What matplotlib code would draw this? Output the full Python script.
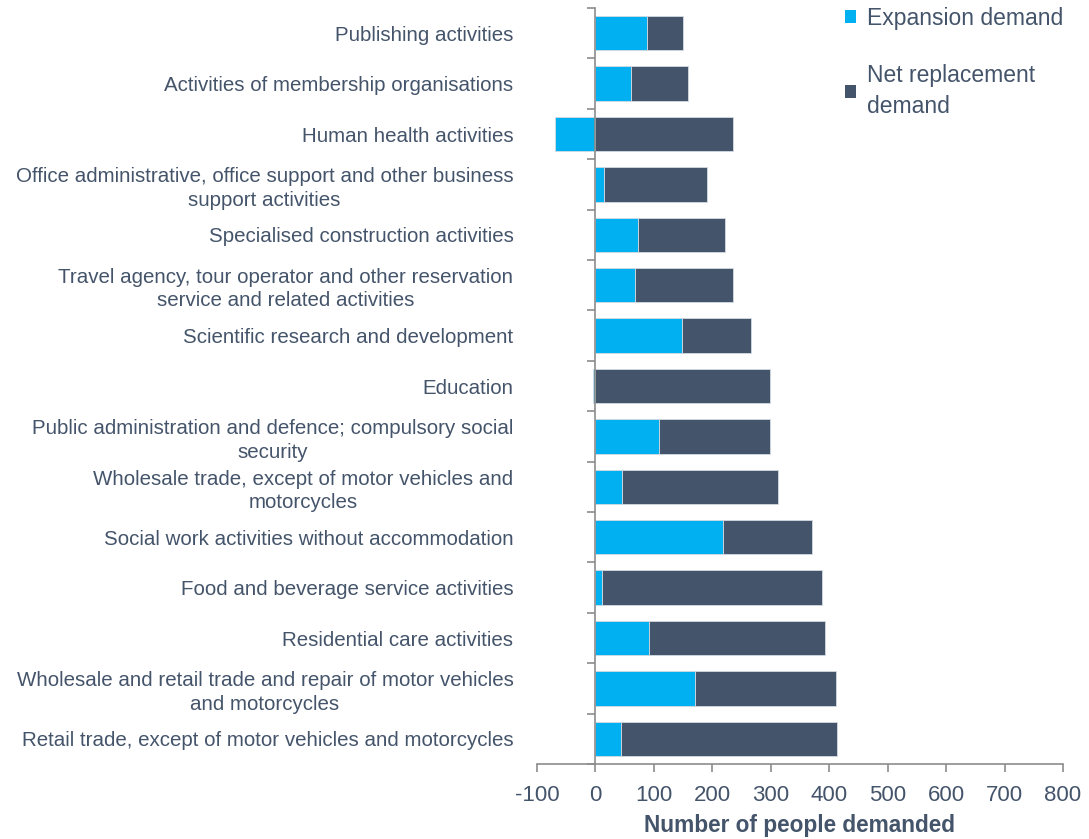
import matplotlib
matplotlib.use("Agg")
import matplotlib.pyplot as plt
import numpy as np

categories = [
    "Publishing activities",
    "Activities of membership organisations",
    "Human health activities",
    "Office administrative, office support and other business\nsupport activities",
    "Specialised construction activities",
    "Travel agency, tour operator and other reservation\nservice and related activities",
    "Scientific research and development",
    "Education",
    "Public administration and defence; compulsory social\nsecurity",
    "Wholesale trade, except of motor vehicles and\nmotorcycles",
    "Social work activities without accommodation",
    "Food and beverage service activities",
    "Residential care activities",
    "Wholesale and retail trade and repair of motor vehicles\nand motorcycles",
    "Retail trade, except of motor vehicles and motorcycles",
]
expansion = [88, 61, -69, 14, 73, 67, 148, -4, 109, 46, 218, 11, 91, 171, 43]
net_replacement = [62, 98, 236, 177, 148, 169, 118, 298, 189, 267, 152, 377, 302, 240, 371]
series_labels = ["Expansion demand", "Net replacement\ndemand"]
xticks = [-100, 0, 100, 200, 300, 400, 500, 600, 700, 800]
xlabel = "Number of people demanded"

plt.rcParams['font.family'] = ['Liberation Sans', 'DejaVu Sans']
txt = '#44546A'
blue = '#00B0F0'
dark = '#44546A'
grey = '#8c8c8c'

fig = plt.figure(figsize=(10.89, 8.39), dpi=100)
ax = fig.add_axes([537/1089, 1-764/839, (1063-537)/1089, (764-8)/839])

n = len(categories)
y = np.arange(n)
exp = np.array(expansion, dtype=float)
net = np.array(net_replacement, dtype=float)
h = 0.68
ax.barh(y, exp, height=h, color=blue, edgecolor='#d5dbe2', linewidth=0.6, label=series_labels[0], zorder=2)
ax.barh(y, net, left=np.maximum(exp, 0), height=h, color=dark, edgecolor='#d5dbe2', linewidth=0.6,
        label=series_labels[1], zorder=2)

ax.set_xlim(-100, 800)
ax.set_ylim(n - 0.5, -0.5)
ax.set_xticks(xticks)
ax.set_xticklabels([str(v) for v in xticks])
ax.tick_params(axis='x', colors=grey, length=6, width=1.2, labelsize=16, labelcolor=txt, pad=9)
for s in ['top', 'right']:
    ax.spines[s].set_visible(False)
ax.spines['bottom'].set_color(grey)
ax.spines['bottom'].set_linewidth(1.2)
ax.spines['left'].set_position(('data', 0))
ax.spines['left'].set_color(grey)
ax.spines['left'].set_linewidth(1.2)
ax.set_yticks(np.arange(-0.5, n, 1.0))
ax.set_yticklabels([])
ax.tick_params(axis='y', colors=grey, length=6, width=1.2)

sec = ax.secondary_yaxis('left', functions=(lambda v: v, lambda v: v))
sec.set_yticks(y)
sec.set_yticklabels(categories)
sec.tick_params(axis='y', length=0, pad=17, labelsize=14.8, labelcolor=txt)
for lab in sec.get_yticklabels():
    lab.set_horizontalalignment('right')
    lab.set_multialignment('center')
    lab.set_linespacing(1.28)
sec.spines['left'].set_visible(False)

ax.set_xlabel(xlabel, fontsize=16.3, fontweight='bold', color=txt, labelpad=6)

leg = fig.legend(loc='upper left', bbox_to_anchor=(845/1089, 1 - 7/839), frameon=False,
                 handlelength=0.5, handleheight=0.5, handletextpad=0.45, labelspacing=1.5,
                 fontsize=16.5, borderpad=0, borderaxespad=0)
for t in leg.get_texts():
    t.set_color(txt)
    t.set_linespacing(1.4)
for p in leg.legend_handles:
    p.set_edgecolor('none')

fig.savefig('out.png', dpi=100)
